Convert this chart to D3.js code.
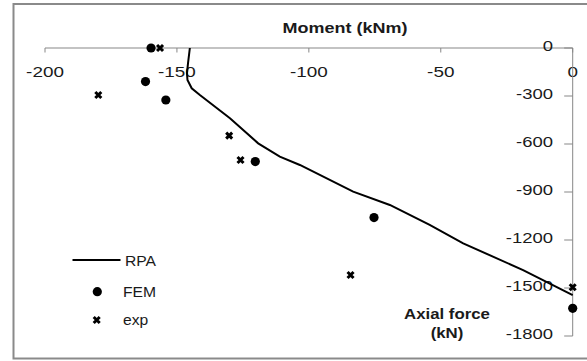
<!DOCTYPE html>
<html><head><meta charset="utf-8">
<script src="https://cdn.jsdelivr.net/npm/d3@7"></script>
<style>body{margin:0;background:#fff}svg{display:block}</style>
</head><body>
<svg id="c" width="587" height="361"></svg>
<script>
// Data
const rpaM = [-145.1, -145.8, -146.2, -146.0, -144.4, -141.3, -129.9, -119.2, -111.0, -103.4, -83.2, -69.3, -54.2, -41.5, -18.8, 0];
const rpaN = [0, -96, -158, -200, -252, -294, -439, -596, -679, -731, -898, -981, -1106, -1221, -1388, -1544];
const femM = [-159.8, -161.9, -154.2, -120.3, -75.3, 0];
const femN = [0, -210, -325, -710, -1060, -1627];
const expM = [-156.4, -179.8, -130.2, -125.9, -84.2, 0];
const expN = [0, -294, -548, -700, -1419, -1495];
const xTicks = [-200, -150, -100, -50, 0];
const yTicks = [0, -300, -600, -900, -1200, -1500, -1800];
const seriesNames = ["RPA", "FEM", "exp"];

const svg = d3.select("#c");
const x = d3.scaleLinear().domain([-200, 0]).range([45, 572.7]);
const y = d3.scaleLinear().domain([0, -1800]).range([48, 336]);
const axisCol = "#878787";
const font = "'Liberation Sans', Arial, sans-serif";

// border
svg.append("rect").attr("x", 13.5).attr("y", 4).attr("width", 600).attr("height", 354.5)
  .attr("fill", "none").attr("stroke", "#8a8a8a").attr("stroke-width", 2);

function label(g, tx, ty, txt, size, weight, sx, anchor) {
  g.append("text").attr("transform", `translate(${tx},${ty}) scale(${sx},1)`)
    .attr("text-anchor", anchor).attr("font-family", font).attr("font-size", size)
    .attr("font-weight", weight).attr("fill", "#1a1a1a").text(txt);
}

// x axis (at N=0)
const gx = svg.append("g");
gx.append("line").attr("x1", x(-200)).attr("x2", x(0)).attr("y1", y(0)).attr("y2", y(0))
  .attr("stroke", axisCol).attr("stroke-width", 1);
xTicks.forEach(t => {
  gx.append("line").attr("x1", x(t)).attr("x2", x(t)).attr("y1", y(0)).attr("y2", y(0) + 4.5)
    .attr("stroke", axisCol);
  label(gx, x(t), 77, String(t), 14, "normal", 1.35, "middle");
});

// y axis (at M=0)
const gy = svg.append("g");
gy.append("line").attr("x1", x(0)).attr("x2", x(0)).attr("y1", y(0)).attr("y2", y(-1800))
  .attr("stroke", axisCol).attr("stroke-width", 1);
yTicks.forEach(t => {
  gy.append("line").attr("x1", x(0) - 8.5).attr("x2", x(0)).attr("y1", y(t)).attr("y2", y(t))
    .attr("stroke", axisCol);
  label(gy, 553, y(t) + 3, String(t), 14, "normal", 1.32, "end");
});

// axis titles
label(svg, 345, 33, "Moment (kNm)", 15, "bold", 1.2, "middle");
label(svg, 447, 319, "Axial force", 15, "bold", 1.12, "middle");
label(svg, 447, 338, "(kN)", 15, "bold", 1.12, "middle");

// RPA line
const rpa = rpaM.map((m, i) => [m, rpaN[i]]);
svg.append("path").datum(rpa)
  .attr("d", d3.line().x(d => x(d[0])).y(d => y(d[1])))
  .attr("fill", "none").attr("stroke", "#000").attr("stroke-width", 2);

// markers
function circleMark(g, cx, cy) {
  g.append("circle").attr("cx", cx).attr("cy", cy).attr("r", 4.6).attr("fill", "#000");
}
function crossMark(g, cx, cy) {
  const s = 3;
  g.append("path").attr("d", `M${cx - s},${cy - s}L${cx + s},${cy + s}M${cx - s},${cy + s}L${cx + s},${cy - s}`)
    .attr("stroke", "#000").attr("stroke-width", 3).attr("fill", "none");
}
const gm = svg.append("g");
femM.forEach((m, i) => circleMark(gm, x(m), y(femN[i])));
expM.forEach((m, i) => crossMark(gm, x(m), y(expN[i])));

// legend
const gl = svg.append("g");
gl.append("line").attr("x1", 72.5).attr("x2", 120.5).attr("y1", 260).attr("y2", 260)
  .attr("stroke", "#000").attr("stroke-width", 2);
label(gl, 125, 265.5, seriesNames[0], 14, "normal", 1.12, "start");
circleMark(gl, 97.3, 291.7);
label(gl, 123, 296.5, seriesNames[1], 14, "normal", 1.12, "start");
crossMark(gl, 96.7, 320);
label(gl, 123, 325, seriesNames[2], 14, "normal", 1.12, "start");
</script>
</body></html>
